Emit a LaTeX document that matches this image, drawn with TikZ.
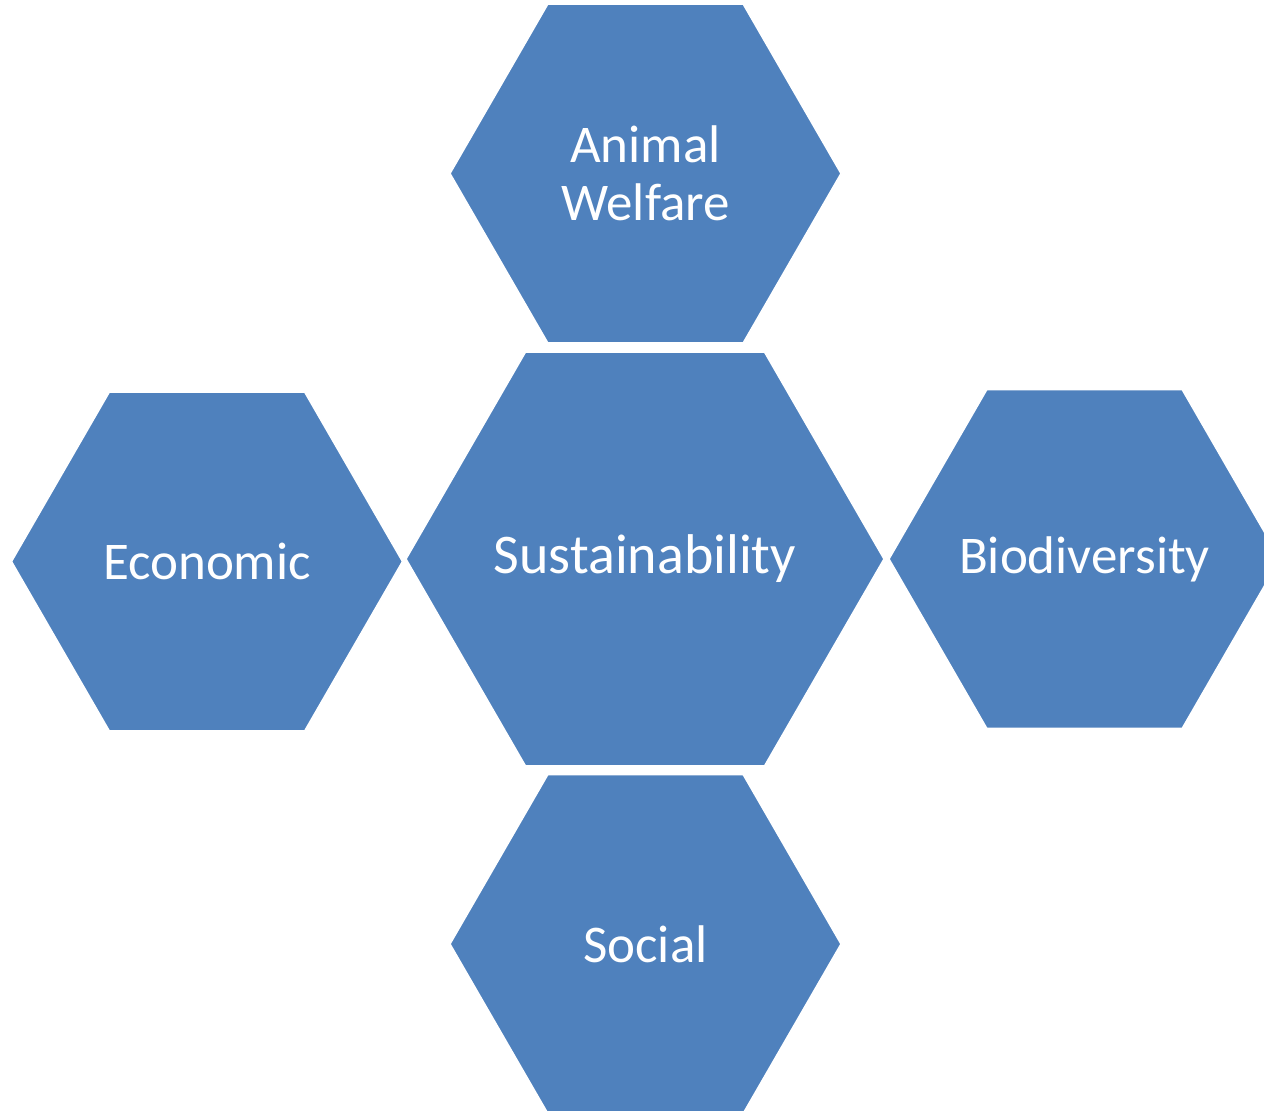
\documentclass[tikz,border=0pt]{standalone}
\usepackage{fontspec}
\setmainfont{Carlito}
\usetikzlibrary{shapes.geometric}
\definecolor{hexblue}{HTML}{4F81BD}
\newcommand{\zw}[1]{\makebox[0pt]{#1}}
\begin{document}
\begin{tikzpicture}[x=1pt,y=-1pt,
  hexa/.style={regular polygon, regular polygon sides=6, fill=hexblue, draw=white,
    line width=1.5pt, inner sep=0pt, outer sep=0pt, text=white, align=center,
    font=\fontsize{53}{58}\selectfont}]
\useasboundingbox (0,0) rectangle (1264,1111);
\clip (0,0) rectangle (1264,1111);
\node[hexa, minimum size=391pt] (animal) at (645.5,173.5) {\zw{Animal}\\\zw{Welfare}};
\node[hexa, minimum size=478pt, font=\fontsize{56}{64}\selectfont] (sust) at (645,559) {\zw{Sustainability}};
\node[hexa, minimum size=391pt] (econ) at (207,561.5) {\zw{Economic}};
\node[hexa, minimum size=391pt] (bio) at (1084.5,559) {\zw{Biodiversity}};
\node[hexa, minimum size=391pt] (social) at (645.5,944) {\zw{Social}};
\end{tikzpicture}
\end{document}
